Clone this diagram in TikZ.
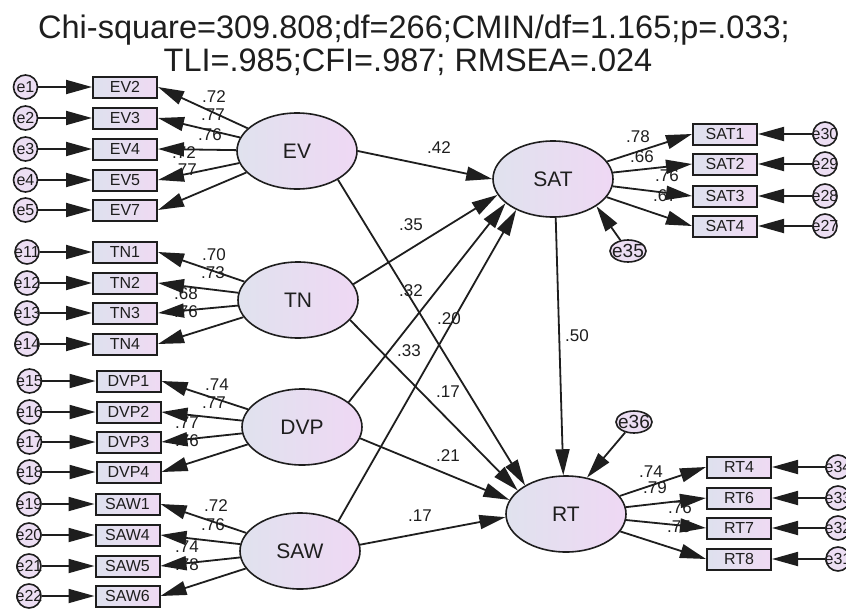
\documentclass[tikz,border=0pt]{standalone}
\usepackage{fontspec}
\setmainfont{Liberation Sans}
\usetikzlibrary{arrows.meta,shapes.geometric}
\definecolor{boxL}{RGB}{222,225,238}
\definecolor{boxR}{RGB}{239,218,243}
\definecolor{latL}{RGB}{224,226,238}
\definecolor{latR}{RGB}{239,216,244}
\definecolor{errF}{RGB}{236,222,243}
\definecolor{ink}{RGB}{30,30,30}
\begin{document}
\begin{tikzpicture}[x=1pt,y=-1pt,
  obs/.style={draw=ink, line width=2pt, minimum width=64pt, minimum height=21pt, inner sep=0pt, left color=boxL, right color=boxR, text=ink, font=\fontsize{16}{16}\selectfont},
  lat/.style={ellipse, draw=ink, line width=1.6pt, minimum width=120pt, minimum height=76pt, inner sep=0pt, left color=latL, right color=latR, text=ink, font=\fontsize{21}{21}\selectfont},
  err/.style={circle, draw=ink, line width=1.6pt, minimum size=24pt, inner sep=0pt, fill=errF, text=ink, font=\fontsize{16}{16}\selectfont},
  erre/.style={ellipse, draw=ink, line width=1.6pt, minimum width=36pt, minimum height=22pt, inner sep=0pt, fill=errF, text=ink, font=\fontsize{19}{19}\selectfont},
  arr/.style={draw=ink, line width=1.8pt, -{Triangle[length=26pt,width=14pt]}},
  lab/.style={font=\fontsize{17}{17}\selectfont, inner sep=0pt, text=ink},
  ttl/.style={font=\fontsize{32.5}{32.5}\selectfont, inner sep=0pt, text=ink}
]
\fill[white] (0,0) rectangle (846,608);
\useasboundingbox (0,0) rectangle (846,608);

\node[ttl] (t1) at (414,30) {Chi-square=309.808;df=266;CMIN/df=1.165;p=.033;};
\node[ttl] (t2) at (408,62) {TLI=.985;CFI=.987; RMSEA=.024};

% latent variables
\node[lat] (EV)  at (297,151) {EV};
\node[lat] (TN)  at (298,300) {TN};
\node[lat] (DVP) at (302,427) {DVP};
\node[lat] (SAW) at (300,551) {SAW};
\node[lat] (SAT) at (553,179) {SAT};
\node[lat] (RT)  at (566,514) {RT};

% indicators and their errors
\foreach \n/\y/\e in {EV2/87/e1, EV3/118/e2, EV4/149/e3, EV5/180/e4, EV7/210/e5}{
  \node[obs] (\n) at (125,\y) {\n};
  \node[err] (\e) at (25.5,\y) {\makebox[0pt]{\e}};
}
\foreach \n/\y/\e in {TN1/252/e11, TN2/283/e12, TN3/313/e13, TN4/344/e14}{
  \node[obs] (\n) at (125,\y) {\n};
  \node[err] (\e) at (27,\y) {\makebox[0pt]{\e}};
}
\foreach \n/\y/\e in {DVP1/381/e15, DVP2/412/e16, DVP3/442/e17, DVP4/472/e18}{
  \node[obs] (\n) at (128.5,\y) {\n};
  \node[err] (\e) at (29.5,\y) {\makebox[0pt]{\e}};
}
\foreach \n/\y/\e in {SAW1/504/e19, SAW4/535/e20, SAW5/566/e21, SAW6/596/e22}{
  \node[obs] (\n) at (127.5,\y) {\n};
  \node[err] (\e) at (29,\y) {\makebox[0pt]{\e}};
}
\foreach \n/\y/\e in {SAT1/134/e30, SAT2/164/e29, SAT3/196/e28, SAT4/226/e27}{
  \node[obs] (\n) at (725,\y) {\n};
  \node[err] (\e) at (825,\y) {\makebox[0pt]{\e}};
}
\foreach \n/\y/\e in {RT4/467/e34, RT6/498/e33, RT7/528/e32, RT8/559/e31}{
  \node[obs] (\n) at (739,\y) {\n};
  \node[err] (\e) at (838,\y) {\makebox[0pt]{\e}};
}
\node[erre] (e35) at (628,251) {\makebox[0pt]{e35}};
\node[erre] (e36) at (634,422) {\makebox[0pt]{e36}};

% loading labels
\node[lab] (l1) at (214,97) {.72};
\node[lab] (l2) at (213,115) {.77};
\node[lab] (l3) at (210,135) {.76};
\node[lab] (l4) at (184,153) {.72};
\node[lab] (l5) at (185,170) {.77};
\node[lab] (l6) at (214,255) {.70};
\node[lab] (l7) at (213,273) {.73};
\node[lab] (l8) at (186,294) {.68};
\node[lab] (l9) at (186,312) {.76};
\node[lab] (l10) at (217,385) {.74};
\node[lab] (l11) at (214,403) {.77};
\node[lab] (l12) at (187,423) {.77};
\node[lab] (l13) at (187,441) {.76};
\node[lab] (l14) at (216,506) {.72};
\node[lab] (l15) at (213,525) {.76};
\node[lab] (l16) at (187,547) {.74};
\node[lab] (l17) at (187,565) {.78};
\node[lab] (l18) at (638,137) {.78};
\node[lab] (l19) at (642,157) {.66};
\node[lab] (l20) at (667,176) {.76};
\node[lab] (l21) at (665,196) {.67};
\node[lab] (l22) at (651,472) {.74};
\node[lab] (l23) at (655,488) {.79};
\node[lab] (l24) at (680,508) {.76};
\node[lab] (l25) at (679,527) {.75};
% structural labels
\node[lab] (s1) at (439,148) {.42};
\node[lab] (s2) at (411,225) {.35};
\node[lab] (s3) at (411,291) {.32};
\node[lab] (s4) at (449,319) {.20};
\node[lab] (s5) at (409,351) {.33};
\node[lab] (s6) at (448,392) {.17};
\node[lab] (s7) at (448,456) {.21};
\node[lab] (s8) at (420,516) {.17};
\node[lab] (s9) at (577,336) {.50};

% error arrows
\foreach \e/\n in {e1/EV2,e2/EV3,e3/EV4,e4/EV5,e5/EV7,e11/TN1,e12/TN2,e13/TN3,e14/TN4,e15/DVP1,e16/DVP2,e17/DVP3,e18/DVP4,e19/SAW1,e20/SAW4,e21/SAW5,e22/SAW6}
  \draw[arr] (\e) -- (\n.west);
\foreach \e/\n in {e30/SAT1,e29/SAT2,e28/SAT3,e27/SAT4,e34/RT4,e33/RT6,e32/RT7,e31/RT8}
  \draw[arr] (\e) -- (\n.east);

% loadings
\foreach \f/\n in {EV/EV2,EV/EV3,EV/EV4,EV/EV5,EV/EV7,TN/TN1,TN/TN2,TN/TN3,TN/TN4,DVP/DVP1,DVP/DVP2,DVP/DVP3,DVP/DVP4,SAW/SAW1,SAW/SAW4,SAW/SAW5,SAW/SAW6}
  \draw[arr] (\f) -- (\n.east);
\foreach \f/\n in {SAT/SAT1,SAT/SAT2,SAT/SAT3,SAT/SAT4,RT/RT4,RT/RT6,RT/RT7,RT/RT8}
  \draw[arr] (\f) -- (\n.west);

% structural paths
\draw[arr] (EV.east) -- (SAT.west);
\draw[arr] (EV.-35) -- (RT.145);
\draw[arr] (TN.16) -- (SAT.196);
\draw[arr] (TN.-21) -- (RT.154);
\draw[arr] (DVP.28) -- (SAT.207);
\draw[arr] (DVP.-11) -- (RT.166);
\draw[arr] (SAW.38) -- (SAT.220);
\draw[arr] (SAW.6) -- (RT.183);
\draw[arr] (SAT.-86) -- (RT.94);
\draw[arr] (e35) -- (SAT.-32);
\draw[arr] (e36) -- (RT.60);
\end{tikzpicture}
\end{document}
